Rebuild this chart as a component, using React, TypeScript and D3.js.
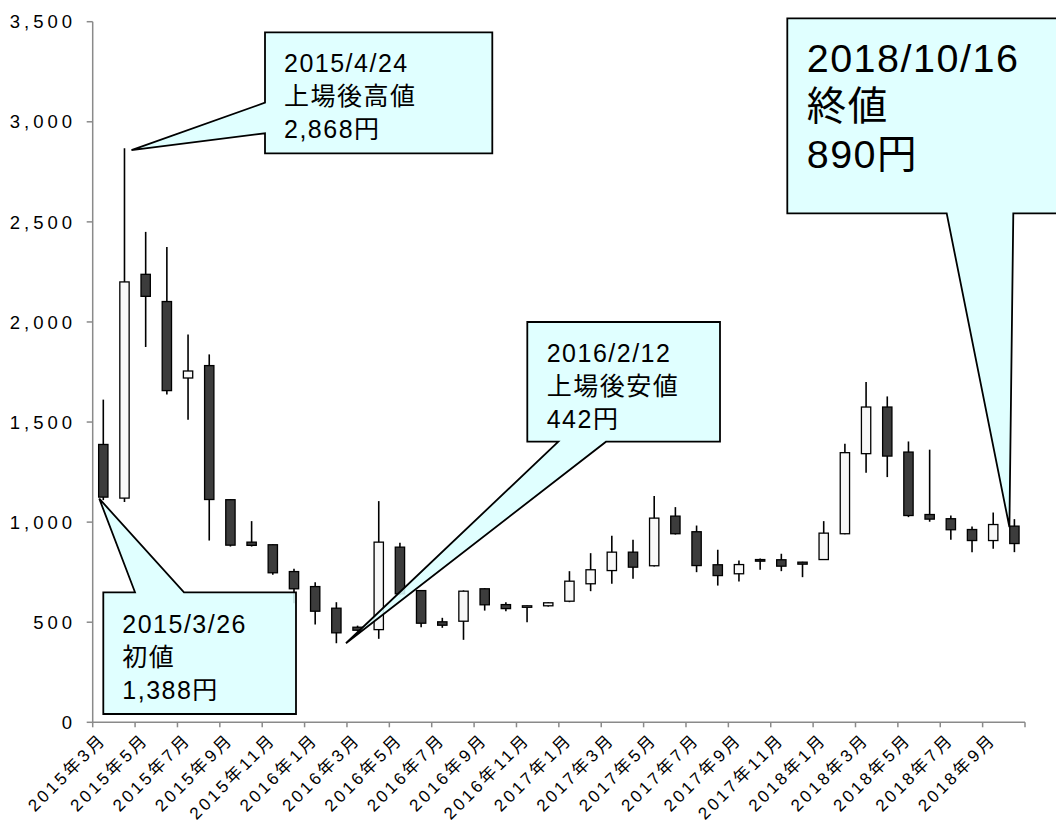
import React from "react";
import * as d3 from "d3";

const months = [
  "2015年3月","2015年4月","2015年5月","2015年6月","2015年7月","2015年8月","2015年9月","2015年10月","2015年11月","2015年12月",
  "2016年1月","2016年2月","2016年3月","2016年4月","2016年5月","2016年6月","2016年7月","2016年8月","2016年9月","2016年10月","2016年11月","2016年12月",
  "2017年1月","2017年2月","2017年3月","2017年4月","2017年5月","2017年6月","2017年7月","2017年8月","2017年9月","2017年10月","2017年11月","2017年12月",
  "2018年1月","2018年2月","2018年3月","2018年4月","2018年5月","2018年6月","2018年7月","2018年8月","2018年9月","2018年10月",
];
const openV = [1388,1120,2238,2102,1720,1782,1112,900,887,753,678,570,475,463,875,658,502,505,667,588,578,582,605,692,758,850,782,1030,952,787,742,813,812,800,813,942,1342,1575,1350,1038,1017,963,908,980];
const highV = [1612,2868,2450,2375,1937,1838,1115,1005,890,767,700,600,483,1105,897,660,522,659,670,600,583,600,755,845,932,912,1130,1075,983,862,808,818,842,802,1005,1392,1700,1628,1403,1362,1033,978,1048,1015];
const lowV = [1110,1100,1875,1637,1512,908,878,878,737,595,488,395,455,417,635,475,472,412,558,555,500,578,600,655,692,717,778,938,750,683,703,762,755,725,812,940,1247,1225,1025,1002,912,850,867,850];
const closeV = [1125,2200,2128,1657,1755,1113,885,884,747,667,555,447,460,900,642,495,485,655,587,568,582,597,705,762,850,775,1020,942,783,733,788,805,780,790,945,1347,1575,1330,1033,1015,962,908,988,893];
const yTicks = [0, 500, 1000, 1500, 2000, 2500, 3000, 3500];

const callouts = [
  { lines: ["2015/4/24", "上場後高値", "2,868円"], month: "2015年4月", value: 2868 },
  { lines: ["2018/10/16", "終値", "890円"], month: "2018年10月", value: 975 },
  { lines: ["2016/2/12", "上場後安値", "442円"], month: "2016年2月", value: 395 },
  { lines: ["2015/3/26", "初値", "1,388円"], month: "2015年3月", value: 1117 },
];

const FONT = "'Liberation Sans', Arial, 'Noto Sans CJK JP', sans-serif";

export default function App() {
  const x = d3.scaleBand<string>().domain(months).range([92.7, 1025]).padding(0);
  const y = d3.scaleLinear().domain([0, 3500]).range([722.3, 21.7]);
  const bw = x.bandwidth();
  const cw = bw * 0.44;
  const cx = (m: string) => (x(m) as number) + bw / 2;
  const x0 = x.range()[0];
  const x1 = x.range()[1];

  const data = months.map((m, i) => ({ m, o: openV[i], h: highV[i], l: lowV[i], c: closeV[i] }));
  const tickBounds = d3.range(0, months.length + 1, 2).map((k) => x0 + k * bw);

  const t1 = { x: cx(callouts[0].month) + 7, y: y(callouts[0].value) + 2 };
  const t2 = { x: cx(callouts[1].month) - 5, y: y(callouts[1].value) };
  const t3 = { x: cx(callouts[2].month) + 9.6, y: y(callouts[2].value) };
  const t4 = { x: cx(callouts[3].month) - 4, y: y(callouts[3].value) };

  const paths = [
    `M265,32.3 L492.3,32.3 L492.3,153.3 L265,153.3 L265,133.3 L${t1.x},${t1.y} L265,102.7 Z`,
    `M787.3,18.3 L1065,18.3 L1065,213.3 L1013.3,213.3 L${t2.x},${t2.y} L946.7,213.3 L787.3,213.3 Z`,
    `M527.3,322 L720,322 L720,441.7 L606,441.7 L${t3.x},${t3.y} L558.3,441.7 L527.3,441.7 Z`,
    `M103.3,592.3 L135,592.3 L${t4.x},${t4.y} L184,592.3 L296,592.3 L296,714 L103.3,714 Z`,
  ];
  const textPos = [
    { x: 284, y0: 71.7, dy: 33.3, fs: 25 },
    { x: 806.7, y0: 71.7, dy: 48.3, fs: 39.5 },
    { x: 546.7, y0: 361.7, dy: 33.3, fs: 25 },
    { x: 122.3, y0: 632.7, dy: 33.3, fs: 25 },
  ];

  return (
    <svg width={1056} height={825} style={{ position: "absolute", left: 0, top: 0, background: "#fff" }} fontFamily={FONT}>
      <rect width={1056} height={825} fill="#fff" />
      <line x1={x0} x2={x0} y1={y(3500)} y2={y(0)} stroke="#8a8a8a" strokeWidth={1.5} />
      {yTicks.map((t) => (
        <g key={t}>
          <line x1={x0 - 6} x2={x0} y1={y(t)} y2={y(t)} stroke="#8a8a8a" strokeWidth={1.5} />
          <text x={76} y={y(t)} dy="0.36em" textAnchor="end" fontSize={18.5} letterSpacing={4} fill="#000">
            {d3.format(",")(t)}
          </text>
        </g>
      ))}
      <line x1={x0} x2={x1} y1={y(0)} y2={y(0)} stroke="#8a8a8a" strokeWidth={1.5} />
      {tickBounds.map((b, i) => (
        <line key={i} x1={b} x2={b} y1={y(0)} y2={y(0) + 5} stroke="#8a8a8a" strokeWidth={1.5} />
      ))}
      {months.map((m, i) =>
        i % 2 === 0 ? (
          <text
            key={m}
            transform={`translate(${cx(m) + 4},${y(0) + 18}) rotate(-45)`}
            textAnchor="end"
            fontSize={17}
            letterSpacing={3}
            fill="#000"
          >
            {m}
          </text>
        ) : null
      )}
      {data.map((d) => {
        const up = d.c >= d.o;
        const top = y(Math.max(d.o, d.c));
        const bot = y(Math.min(d.o, d.c));
        return (
          <g key={d.m}>
            <line x1={cx(d.m)} x2={cx(d.m)} y1={y(d.h)} y2={y(d.l)} stroke="#000" strokeWidth={1.6} />
            <rect
              x={cx(d.m) - cw / 2}
              y={top}
              width={cw}
              height={Math.max(bot - top, 1.5)}
              fill={up ? "#f8f8f8" : "#3c3c3c"}
              stroke="#000"
              strokeWidth={1.3}
            />
          </g>
        );
      })}
      {callouts.map((c, i) => (
        <g key={i}>
          <path d={paths[i]} fill="#dcffff" fillOpacity={0.88} stroke="#000" strokeWidth={1.8} strokeLinejoin="miter" />
          {c.lines.map((ln, j) => (
            <text
              key={j}
              x={textPos[i].x}
              y={textPos[i].y0 + j * textPos[i].dy}
              fontSize={textPos[i].fs}
              letterSpacing={1.5}
              fill="#000"
            >
              {ln}
            </text>
          ))}
        </g>
      ))}
    </svg>
  );
}
